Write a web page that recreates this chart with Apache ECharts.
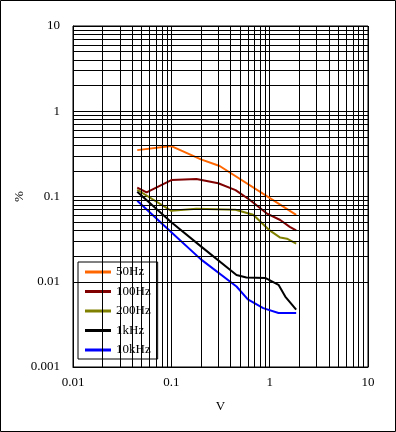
<!DOCTYPE html>
<html><head><meta charset="utf-8">
<script src="https://cdn.jsdelivr.net/npm/echarts@6/dist/echarts.min.js"></script>
<style>html,body{margin:0;padding:0;background:#fff}#c{width:396px;height:432px}</style>
</head><body><div id="c"></div>
<script>
const seriesNames = ['50Hz', '100Hz', '200Hz', '1kHz', '10kHz'];
const seriesColors = ['#FF6600', '#800000', '#808000', '#000000', '#0000FF'];
const s50Hz = [[0.045, 0.35], [0.1, 0.39], [0.2, 0.273], [0.31, 0.228], [1.86, 0.061]];
const s100Hz = [[0.045, 0.127], [0.056, 0.112], [0.1, 0.156], [0.18, 0.16], [0.3, 0.143], [0.45, 0.119], [0.63, 0.091], [0.93, 0.0635], [1.28, 0.053], [1.6, 0.044], [1.86, 0.040]];
const s200Hz = [[0.045, 0.12], [0.1, 0.068], [0.18, 0.072], [0.45, 0.07], [0.68, 0.061], [1.0, 0.040], [1.28, 0.033], [1.5, 0.032], [1.86, 0.028]];
const s1kHz = [[0.045, 0.114], [0.1, 0.05], [0.2, 0.026], [0.46, 0.012], [0.58, 0.0112], [0.9, 0.0111], [1.23, 0.0092], [1.44, 0.0067], [1.86, 0.0047]];
const s10kHz = [[0.045, 0.089], [0.1, 0.038], [0.2, 0.0183], [0.46, 0.0088], [0.6, 0.0062], [0.86, 0.0049], [1.23, 0.0043], [1.86, 0.0043]];
const seriesData = [s50Hz, s100Hz, s200Hz, s1kHz, s10kHz];
const xRange = [0.01, 10];
const yRange = [0.001, 10];
const xName = 'V';
const yName = '%';

function minorValues(min, max) {
  const out = [];
  for (let d = min; d < max * 0.999; d *= 10) {
    for (let k = 2; k <= 9; k++) out.push(+(d * k).toPrecision(3));
  }
  return out;
}
const minorX = minorValues(xRange[0], xRange[1]);
const minorY = minorValues(yRange[0], yRange[1]);

const font = "'Liberation Serif', 'Times New Roman', Times, serif";
const chart = echarts.init(document.getElementById('c'), null, {renderer: 'canvas'});
const series = [{
  name: '__grid',
  type: 'line',
  data: [],
  silent: true,
  z: 1,
  symbol: 'none',
  markLine: {
    silent: true,
    symbol: ['none', 'none'],
    label: {show: false},
    lineStyle: {color: '#000', width: 1, type: 'solid'},
    animation: false,
    data: minorX.map(v => ({xAxis: v})).concat(minorY.map(v => ({yAxis: v})))
  }
}];
seriesNames.forEach((n, i) => {
  series.push({
    name: n,
    type: 'line',
    data: seriesData[i],
    symbol: 'none',
    z: 3,
    lineStyle: {color: seriesColors[i], width: 2},
    itemStyle: {color: seriesColors[i]}
  });
});

chart.setOption({
  animation: false,
  backgroundColor: '#fff',
  textStyle: {fontFamily: font},
  graphic: [{
    type: 'rect',
    shape: {x: 0.5, y: 0.5, width: 395, height: 431},
    style: {fill: 'none', stroke: '#000', lineWidth: 1},
    z: 0
  }],
  grid: {left: 73, right: 28, top: 26, bottom: 65, show: true, borderColor: '#000', borderWidth: 1},
  legend: {
    data: seriesNames,
    orient: 'vertical',
    left: 78,
    top: 262,
    padding: [3, 7, 2, 7],
    itemGap: 5.5,
    itemWidth: 26,
    itemHeight: 3,
    icon: 'rect',
    backgroundColor: '#fff',
    borderColor: '#000',
    borderWidth: 1,
    textStyle: {fontFamily: font, fontSize: 13, color: '#000', lineHeight: 14}
  },
  xAxis: {
    type: 'log',
    logBase: 10,
    min: xRange[0],
    max: xRange[1],
    name: xName,
    nameLocation: 'middle',
    nameGap: 33,
    nameMoveOverlap: false,
    nameTextStyle: {fontFamily: font, fontSize: 13, color: '#000'},
    axisLine: {show: true, lineStyle: {color: '#000', width: 1}},
    axisTick: {show: false},
    axisLabel: {fontFamily: font, fontSize: 13, color: '#000', margin: 9},
    splitLine: {show: true, lineStyle: {color: '#000', width: 1}}
  },
  yAxis: {
    type: 'log',
    logBase: 10,
    min: yRange[0],
    max: yRange[1],
    name: yName,
    nameLocation: 'middle',
    nameGap: 47,
    nameMoveOverlap: false,
    nameTextStyle: {fontFamily: font, fontSize: 13, color: '#000'},
    axisLine: {show: true, lineStyle: {color: '#000', width: 1}},
    axisTick: {show: false},
    axisLabel: {fontFamily: font, fontSize: 13, color: '#000', margin: 13},
    splitLine: {show: true, lineStyle: {color: '#000', width: 1}}
  },
  series: series
});
</script></body></html>
